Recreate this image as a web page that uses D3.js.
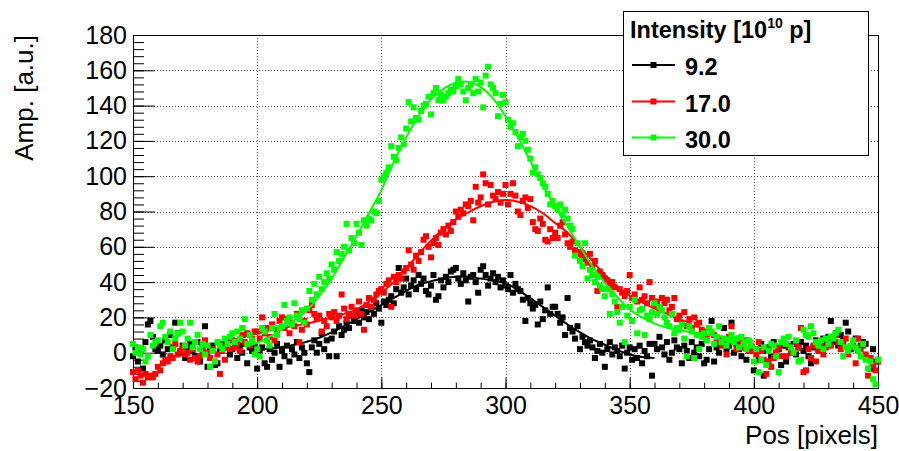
<!DOCTYPE html>
<html>
<head>
<meta charset="utf-8">
<script src="https://cdn.jsdelivr.net/npm/d3@7"></script>
<style>
  body { margin: 0; background: #fff; }
  svg { display: block; font-family: "Liberation Sans", Arial, sans-serif; }
</style>
</head>
<body>
<svg id="chart" width="899" height="451"></svg>
<script>
// positions (pixels) 150..450, one sample per pixel
const pos = d3.range(150, 451);

// intensity 9.2
const amp92 = [
  -2, 3, -5, 1, -9, 6, 16, 18, 9, 2,
  1, 4, -1, 7, 2, 10, 3, 17, 11, 0,
  4, -3, 2, 5, 1, -2, 6, -5, 3, 15,
  -8, 2, 4, -7, -6, 1, 5, 3, 7, -1,
  2, 6, -3, 4, 0, 5, -6, 3, 1, 4,
  -9, 1, 3, -6, -8, 2, -4, 0, 5, -8,
  1, -2, 4, -5, 2, -1, 6, -3, 3, 0,
  -6, -11, 3, 7, 0, 5, 11, 2, 7, -2,
  8, 12, -2, 15, 10, 13, 17, 14, 21, 18,
  22, 17, 24, 20, 23, 19, 26, 22, 28, 25,
  17, 29, 27, 30, 32, 28, 36, 48, 34, 37,
  42, 33, 38, 41, 36, 44, 39, 42, 35, 33,
  38, 44, 30, 32, 41, 37, 43, 40, 46, 47,
  48, 42, 39, 45, 41, 29, 43, 44, 40, 34,
  47, 49, 44, 38, 42, 45, 40, 43, 37, 41,
  38, 36, 44, 34, 39, 36, 35, 30, 18, 31,
  28, 25, 27, 16, 29, 19, 24, 37, 22, 26,
  26, 22, 17, 20, 10, 31, 14, 12, 8, 15,
  2, 9, 6, 4, 7, 3, -3, 1, 5, 0,
  -8, 2, 6, -1, 3, 1, -2, 4, -9, 0,
  3, -4, 2, -3, 4, -6, 1, -2, 5, -13,
  5, 2, 9, 3, -1, 6, -4, 0, 7, 3,
  2, -6, 4, 1, -3, 6, 0, 3, -2, 5,
  -6, -4, 2, 18, -5, 3, 0, 6, 14, 2,
  4, 17, 0, 5, 2, -2, 3, -4, 1, 3,
  -10, 2, -4, 5, -13, 1, 3, -2, 6, 0,
  2, -7, 4, -5, 3, 0, 5, -1, 3, 6,
  1, 4, -2, -6, 3, 7, 2, 4, 8, 5,
  9, 18, 6, 11, 4, 10, 7, 17, 12, 2,
  3, 8, 1, 4, 6, 5, -3, -9, 2, -5, -4
];

// intensity 17.0
const amp170 = [
  -11, -15, -10, -13, -17, -12, -14, -13, -14, -12,
  -8, -10, -6, -4, -5, -2, -3, 5, -1, 1,
  3, -1, 0, -4, 2, -3, -5, -2, 1, 7,
  0, -3, 2, -5, -1, -12, 1, -4, 3, 2,
  7, 3, 5, 1, 10, 6, 11, 4, 8, 12,
  12, 8, 20, 11, 14, 9, 16, 7, 13, 18,
  20, 14, 19, 11, 17, 15, 22, 6, 13, 18,
  16, 24, 27, 22, 19, 21, 12, 18, 15, 22,
  20, 23, 18, 21, 33, 25, 19, 22, 26, 21,
  24, 29, 22, 13, 27, 31, 26, 30, 33, 35,
  36, 34, 39, 41, 26, 43, 40, 44, 42, 46,
  48, 58, 50, 47, 55, 52, 57, 64, 66, 60,
  54, 62, 65, 61, 68, 70, 67, 72, 69, 74,
  80, 77, 81, 79, 84, 83, 86, 75, 94, 85,
  88, 101, 96, 84, 95, 89, 87, 91, 85, 90,
  95, 84, 90, 96, 89, 80, 78, 86, 88, 82,
  87, 74, 70, 69, 76, 73, 64, 63, 70, 65,
  68, 65, 72, 74, 67, 62, 60, 63, 58, 56,
  57, 55, 53, 51, 56, 49, 52, 35, 46, 44,
  42, 41, 38, 40, 37, 26, 36, 34, 32, 35,
  44, 31, 33, 29, 37, 30, 32, 28, 40, 31,
  27, 29, 25, 31, 28, 30, 24, 26, 31, 19,
  21, 17, 23, 15, 19, 14, 20, 16, 17, 13,
  12, 9, 14, 11, 10, 6, 8, 4, 7, -1,
  9, 15, 6, 2, 8, 5, 3, 7, 1, 4,
  1, -1, 6, 1, -4, -12, -5, -8, -3, 0,
  3, -2, 5, -2, 4, 1, 0, 6, 3, 14,
  -11, -10, 2, -3, 4, -5, 1, 5, -1, 3,
  7, 4, 9, 10, 6, 2, 5, 8, -1, 3,
  5, -6, 8, 2, 4, -1, -13, -3, -7, -10, -5
];

// intensity 30.0
const amp300 = [
  5, 0, 3, -1, 2, -5, -2, 10, 4, 6,
  7, 15, 17, 9, 6, 12, 2, 8, 11, 17,
  12, 4, 8, 17, 3, 6, 10, 2, 5, -1,
  4, -8, 1, -5, 6, 4, 2, 8, 5, 9,
  11, 6, 12, 8, 14, 19, 5, 10, 7, -1,
  2, -2, 14, 12, 7, 4, 14, 22, 10, 14,
  15, 27, 18, 20, 16, 28, 21, 19, 24, 17,
  25, 35, 30, 39, 33, 43, 36, 40, 45, 42,
  50, 47, 57, 52, 56, 60, 73, 58, 65, 62,
  73, 68, 61, 75, 72, 76, 75, 80, 79, 86,
  98, 100, 102, 105, 117, 111, 109, 116, 122, 118,
  127, 142, 131, 139, 133, 132, 137, 140, 141, 145,
  135, 147, 150, 143, 146, 143, 145, 147, 149, 148,
  151, 155, 152, 148, 143, 150, 152, 147, 155, 148,
  153, 139, 157, 162, 152, 150, 147, 134, 141, 146,
  142, 132, 128, 130, 125, 117, 122, 124, 120, 115,
  110, 102, 105, 101, 99, 96, 94, 90, 84, 86,
  83, 81, 84, 78, 81, 76, 72, 70, 55, 62,
  52, 49, 62, 42, 47, 44, 40, 43, 38, 36,
  32, 36, 22, 33, 29, 23, 17, 26, 6, 21,
  26, 18, 30, 11, 24, 25, 10, 21, 19, 23,
  28, 22, 26, 24, 20, 17, 15, 22, 11, 14,
  13, 16, 8, -2, 15, 12, -3, 10, 2, 9,
  11, 7, 14, 12, 5, 9, 15, 6, 8, 4,
  7, 10, 6, 8, 3, 9, 5, 2, 7, 4,
  -5, 2, -11, -4, 3, -7, 1, 5, 4, -2,
  -11, 6, 8, 5, 9, 3, 0, 7, -5, -4,
  13, 10, 9, 15, 11, 6, 4, 7, 2, 8,
  5, 9, 8, 11, 13, 6, -2, 3, 1, 4,
  7, 3, 1, -2, 5, -4, -9, -5, -15, -18, -4
];

// fitted curves, every 5 pixels
const fit92X = d3.range(200, 361, 5);
const fit92Y = [1.5, 2.2, 3.2, 4.5, 6.2, 8.5, 11.5, 15, 19, 23, 27, 31, 35, 38.5, 40.5, 42, 43,
  43, 42, 41, 39.5, 35.5, 31, 26, 21, 16, 11.5, 7.5, 4.5, 1.5, -1, -2.5, -3];
const fit170X = d3.range(190, 376, 5);
const fit170Y = [7, 9, 11, 12.5, 14, 15.2, 16.5, 18.2, 20, 22, 24.5, 29, 34, 40, 47.5, 56, 63.5,
  70, 75.5, 79.5, 83, 85.5, 86.5, 85.5, 83, 79, 73.5, 68, 60, 52, 44, 37.5, 32.5, 28.5, 25, 22, 19, 16.5];
const fit300X = d3.range(195, 401, 5);
const fit300Y = [4, 5.5, 9, 13.5, 18.5, 24, 32, 42, 54, 66, 79, 92, 108, 122, 134, 143.5, 149.5,
  153, 153.5, 150.5, 144, 134, 122, 108.5, 95, 82.5, 71.5, 60, 49, 39.5, 31.5, 24.5, 20, 16.5,
  14.2, 12.8, 11.5, 10.5, 9.5, 8.5, 7.5, 6.7];

const seriesNames = ["9.2", "17.0", "30.0"];
const seriesColors = ["#000000", "#ff0000", "#00ff00"];
const xTicks = [150, 200, 250, 300, 350, 400, 450];
const yTicks = [-20, 0, 20, 40, 60, 80, 100, 120, 140, 160, 180];

const margin = { top: 35, right: 21, bottom: 63, left: 133 },
  width = 899 - margin.left - margin.right,
  height = 451 - margin.top - margin.bottom;

const svg = d3
  .select("#chart")
  .append("g")
  .attr("transform", `translate(${margin.left},${margin.top})`);

const x = d3.scaleLinear().domain([150, 450]).range([0, width]);
const y = d3.scaleLinear().domain([-20, 180]).range([height, 0]);

// grid
svg
  .append("g")
  .selectAll("line")
  .data(xTicks.slice(1, -1))
  .join("line")
  .attr("x1", (d) => Math.round(x(d)) + 0.5)
  .attr("x2", (d) => Math.round(x(d)) + 0.5)
  .attr("y1", 0)
  .attr("y2", height)
  .attr("stroke", "#555")
  .attr("stroke-dasharray", "1,2");

svg
  .append("g")
  .selectAll("line")
  .data(yTicks.slice(1, -1))
  .join("line")
  .attr("x1", 0)
  .attr("x2", width)
  .attr("y1", (d) => Math.round(y(d)) + 0.5)
  .attr("y2", (d) => Math.round(y(d)) + 0.5)
  .attr("stroke", "#555")
  .attr("stroke-dasharray", "1,2");

// axes: minor ticks first, then major ticks with labels
svg
  .append("g")
  .attr("transform", `translate(0,${height})`)
  .call(d3.axisBottom(x).tickValues(d3.range(150, 451, 10)).tickSize(-5.3).tickFormat(""))
  .call((g) => g.select(".domain").remove());
svg
  .append("g")
  .attr("transform", `translate(0,${height})`)
  .call(d3.axisBottom(x).tickValues(xTicks).tickSizeInner(-10.6).tickSizeOuter(0).tickPadding(8))
  .call((g) => g.select(".domain").remove())
  .call((g) => g.selectAll("text").style("font-size", "25px").attr("fill", "#000"));

svg
  .append("g")
  .call(d3.axisLeft(y).tickValues(d3.range(-20, 181, 4)).tickSize(-11).tickFormat(""))
  .call((g) => g.select(".domain").remove());
svg
  .append("g")
  .call(d3.axisLeft(y).tickValues(yTicks).tickSizeInner(-22).tickSizeOuter(0).tickPadding(6))
  .call((g) => g.select(".domain").remove())
  .call((g) => g.selectAll("text").style("font-size", "25px").attr("fill", "#000"));

// frame
svg
  .append("rect")
  .attr("x", 0.5)
  .attr("y", 0.5)
  .attr("width", width)
  .attr("height", height)
  .attr("fill", "none")
  .attr("stroke", "#000");

// data + fits
const line = d3
  .line()
  .x((d) => x(d[0]))
  .y((d) => y(d[1]))
  .curve(d3.curveCatmullRom);

const allAmps = [amp92, amp170, amp300];
const fits = [
  [fit92X, fit92Y],
  [fit170X, fit170Y],
  [fit300X, fit300Y]
];
const mk = 6;

allAmps.forEach((amps, i) => {
  svg
    .append("g")
    .selectAll("rect")
    .data(pos.map((p, j) => [p, amps[j]]))
    .join("rect")
    .attr("x", (d) => x(d[0]) - mk / 2)
    .attr("y", (d) => y(d[1]) - mk / 2)
    .attr("width", mk)
    .attr("height", mk)
    .attr("fill", seriesColors[i]);

  svg
    .append("path")
    .datum(fits[i][0].map((p, j) => [p, fits[i][1][j]]))
    .attr("d", line)
    .attr("fill", "none")
    .attr("stroke", seriesColors[i])
    .attr("stroke-width", 2);
});

// axis titles
d3.select("#chart")
  .append("text")
  .attr("x", 878)
  .attr("y", 444)
  .attr("text-anchor", "end")
  .style("font-size", "26px")
  .text("Pos [pixels]");

d3.select("#chart")
  .append("text")
  .attr("transform", "translate(33,35) rotate(-90)")
  .attr("text-anchor", "end")
  .style("font-size", "26px")
  .text("Amp. [a.u.]");

// legend
const legend = d3.select("#chart").append("g");
legend
  .append("rect")
  .attr("x", 623.5)
  .attr("y", 11.5)
  .attr("width", 245)
  .attr("height", 144)
  .attr("fill", "#fff")
  .attr("stroke", "#000");

const title = legend
  .append("text")
  .attr("x", 630)
  .attr("y", 38)
  .style("font-size", "23.5px")
  .style("font-weight", "bold");
title.append("tspan").text("Intensity [10");
title.append("tspan").attr("dy", -10).style("font-size", "14px").text("10");
title.append("tspan").attr("dy", 10).text(" p]");

const entryY = [65, 101.5, 137.5];
seriesNames.forEach((name, i) => {
  legend
    .append("line")
    .attr("x1", 632)
    .attr("x2", 675)
    .attr("y1", entryY[i])
    .attr("y2", entryY[i])
    .attr("stroke", seriesColors[i])
    .attr("stroke-width", 2);
  legend
    .append("rect")
    .attr("x", 653.5 - mk / 2)
    .attr("y", entryY[i] - mk / 2)
    .attr("width", mk)
    .attr("height", mk)
    .attr("fill", seriesColors[i]);
  legend
    .append("text")
    .attr("x", 685)
    .attr("y", entryY[i] + 10)
    .style("font-size", "23.5px")
    .style("font-weight", "bold")
    .text(name);
});
</script>
</body>
</html>
